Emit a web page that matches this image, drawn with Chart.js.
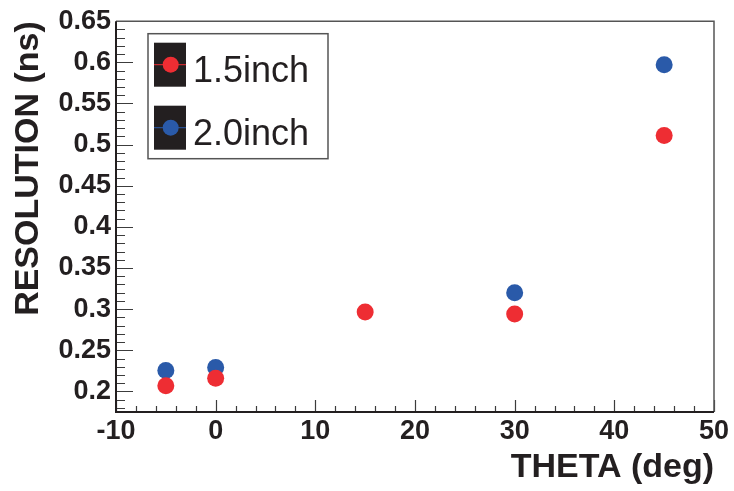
<!DOCTYPE html>
<html>
<head>
<meta charset="utf-8">
<script src="https://cdn.jsdelivr.net/npm/chart.js@4.4.1/dist/chart.umd.min.js"></script>
<style>
body { margin: 0; background: #fff; }
</style>
</head>
<body>
<canvas id="res-chart" width="734" height="491"></canvas>
<script>
// values
var theta15 = [-5, 0, 15, 30, 45];
var res15 = [0.207, 0.216, 0.2965, 0.294, 0.511];
var theta20 = [-5, 0, 30, 45];
var res20 = [0.2255, 0.229, 0.320, 0.597];
var seriesNames = ["1.5inch", "2.0inch"];
var seriesColors = ["#ee2d33", "#2a5aa9"];
var xTicks = [-10, 0, 10, 20, 30, 40, 50];
var yTicks = [0.2, 0.25, 0.3, 0.35, 0.4, 0.45, 0.5, 0.55, 0.6, 0.65];

var ink = '#231f20';

function toPoints(xs, ys) {
	return xs.map(function(x, i) { return { x: x, y: ys[i] }; });
}

// ROOT style frame: ticks inside, major and minor
var rootFrame = {
	id: 'rootFrame',
	beforeDraw: function(chart) {
		var ctx = chart.ctx;
		ctx.save();
		ctx.fillStyle = '#fff';
		ctx.fillRect(0, 0, chart.width, chart.height);
		ctx.restore();
	},
	afterDatasetsDraw: function(chart) {
		var ctx = chart.ctx, a = chart.chartArea;
		var xs = chart.scales.x, ys = chart.scales.y;
		ctx.save();
		ctx.strokeStyle = '#3c3c3c';
		ctx.lineWidth = 1.2;
		ctx.beginPath();
		for (var i = 18; i <= 65; i++) {
			var y = Math.round(ys.getPixelForValue(i / 100)) + 0.5;
			var len = (i % 5 === 0) ? 17 : 9;
			ctx.moveTo(a.left, y);
			ctx.lineTo(a.left + len, y);
		}
		for (var j = -10; j <= 50; j += 2) {
			var x = Math.round(xs.getPixelForValue(j)) + 0.5;
			var l2 = (j % 10 === 0) ? 12 : 6;
			ctx.moveTo(x, a.bottom);
			ctx.lineTo(x, a.bottom - l2);
		}
		ctx.stroke();

		// top and right frame
		ctx.strokeStyle = '#555';
		ctx.lineWidth = 1.5;
		ctx.beginPath();
		ctx.moveTo(a.left, a.top);
		ctx.lineTo(a.right, a.top);
		ctx.lineTo(a.right, a.bottom);
		ctx.stroke();

		// axes
		ctx.strokeStyle = ink;
		ctx.lineWidth = 2;
		ctx.beginPath();
		ctx.moveTo(a.left, a.top);
		ctx.lineTo(a.left, a.bottom);
		ctx.lineTo(a.right, a.bottom);
		ctx.stroke();

		// legend box
		var bx = a.left + 32, by = a.top + 12.5;
		ctx.fillStyle = '#fff';
		ctx.fillRect(bx, by, 180, 125);
		ctx.strokeStyle = '#555';
		ctx.lineWidth = 1.5;
		ctx.strokeRect(bx, by, 180, 125);
		chart.data.datasets.forEach(function(ds, k) {
			var sy = by + 9 + k * 63;
			ctx.fillStyle = ink;
			ctx.fillRect(bx + 6, sy, 32, 44);
			ctx.strokeStyle = ds.backgroundColor;
			ctx.lineWidth = 1;
			ctx.beginPath();
			ctx.moveTo(bx + 6, sy + 22);
			ctx.lineTo(bx + 38, sy + 22);
			ctx.stroke();
			ctx.fillStyle = ds.backgroundColor;
			ctx.beginPath();
			ctx.arc(bx + 22.7, sy + 22, 8, 0, Math.PI * 2);
			ctx.fill();
			ctx.fillStyle = ink;
			ctx.font = '36px "Liberation Sans", Arial, sans-serif';
			ctx.textAlign = 'left';
			ctx.textBaseline = 'alphabetic';
			ctx.fillText(ds.label, bx + 45, sy + 39);
		});
		ctx.restore();
	}
};

new Chart(document.getElementById("res-chart"), {
	type: 'scatter',
	data: {
		datasets: [
			{
				label: seriesNames[0],
				data: toPoints(theta15, res15),
				backgroundColor: seriesColors[0],
				borderWidth: 0,
				pointRadius: 8.5
			},
			{
				label: seriesNames[1],
				data: toPoints(theta20, res20),
				backgroundColor: seriesColors[1],
				borderWidth: 0,
				pointRadius: 8.5
			}
		]
	},
	options: {
		responsive: false,
		animation: false,
		layout: { padding: { top: 19, right: 20, left: 0, bottom: 0 } },
		plugins: {
			legend: { display: false },
			tooltip: { enabled: false }
		},
		scales: {
			x: {
				type: 'linear',
				min: -10,
				max: 50,
				afterBuildTicks: function(s) { s.ticks = xTicks.map(function(v) { return { value: v }; }); },
				afterFit: function(s) { s.height = 79; },
				grid: { display: false, drawTicks: false },
				border: { display: false },
				ticks: {
					color: ink,
					padding: 3,
					maxRotation: 0,
					font: { family: '"Liberation Sans", Arial, sans-serif', size: 27, weight: 'bold' }
				},
				title: {
					display: true,
					text: 'THETA (deg)',
					align: 'end',
					color: ink,
					padding: { top: 0, bottom: 3 },
					font: { family: '"Liberation Sans", Arial, sans-serif', size: 34, weight: 'bold' }
				}
			},
			y: {
				type: 'linear',
				min: 0.175,
				max: 0.65,
				afterBuildTicks: function(s) { s.ticks = yTicks.map(function(v) { return { value: v }; }); },
				afterFit: function(s) { s.width = 116; },
				grid: { display: false, drawTicks: false },
				border: { display: false },
				ticks: {
					color: ink,
					padding: 5,
					callback: function(v) { return String(Math.round(v * 100) / 100); },
					font: { family: '"Liberation Sans", Arial, sans-serif', size: 27, weight: 'bold' }
				},
				title: {
					display: true,
					text: 'RESOLUTION (ns)',
					align: 'end',
					color: ink,
					padding: { top: 8, bottom: 0 },
					font: { family: '"Liberation Sans", Arial, sans-serif', size: 34, weight: 'bold' }
				}
			}
		}
	},
	plugins: [rootFrame]
});
</script>
</body>
</html>
